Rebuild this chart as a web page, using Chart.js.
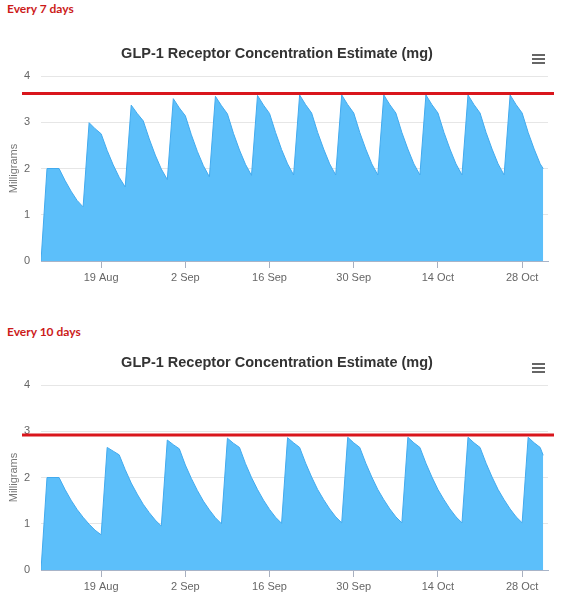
<!DOCTYPE html>
<html>
<head>
<meta charset="utf-8">
<script src="https://cdn.jsdelivr.net/npm/chart.js@4.4.1/dist/chart.umd.min.js"></script>
<style>
    html, body { margin: 0; padding: 0; background: #fff; }
    body { width: 567px; height: 600px; position: relative; overflow: hidden; }
    .note {
        position: absolute; left: 7px;
        font: bold 12px Lato, "Noto Sans", sans-serif;
        color: #cc1a1a;
    }
    .box { position: absolute; left: 0; width: 567px; height: 291px; }
</style>
</head>
<body>
<div class="note" style="top:1px">Every 7 days</div>
<div class="box" style="top:0"><canvas id="chart7"></canvas></div>
<div class="note" style="top:324px">Every 10 days</div>
<div class="box" style="top:309px"><canvas id="chart10"></canvas></div>

<script>
// Chart data
const chartTitle = 'GLP-1 Receptor Concentration Estimate (mg)';
const axisTitle = 'Milligrams';

// days since 9 Aug
const days = [
    0, 1, 2, 3, 4, 5, 6, 7, 8, 9, 10, 11, 12, 13, 14, 15, 16, 17, 18, 19,
    20, 21, 22, 23, 24, 25, 26, 27, 28, 29, 30, 31, 32, 33, 34, 35, 36, 37, 38, 39,
    40, 41, 42, 43, 44, 45, 46, 47, 48, 49, 50, 51, 52, 53, 54, 55, 56, 57, 58, 59,
    60, 61, 62, 63, 64, 65, 66, 67, 68, 69, 70, 71, 72, 73, 74, 75, 76, 77, 78, 79,
    80, 81, 82, 83, 83.5
];

// dose every 7 days
const conc7 = [
    0, 2, 2, 2, 1.74, 1.51, 1.31,
    1.17, 2.99, 2.86, 2.75, 2.39, 2.08, 1.81,
    1.60, 3.37, 3.19, 3.03, 2.64, 2.29, 1.99,
    1.76, 3.51, 3.31, 3.14, 2.73, 2.37, 2.06,
    1.82, 3.56, 3.36, 3.18, 2.76, 2.40, 2.09,
    1.85, 3.58, 3.37, 3.19, 2.78, 2.41, 2.10,
    1.86, 3.59, 3.38, 3.20, 2.78, 2.42, 2.10,
    1.86, 3.59, 3.38, 3.20, 2.78, 2.42, 2.10,
    1.86, 3.59, 3.38, 3.20, 2.78, 2.42, 2.10,
    1.86, 3.59, 3.38, 3.20, 2.78, 2.42, 2.10,
    1.86, 3.59, 3.38, 3.20, 2.78, 2.42, 2.10,
    1.86, 3.59, 3.38, 3.20, 2.78, 2.42, 2.10,
    2.00
];

// dose every 10 days
const conc10 = [
    0, 2, 2, 2, 1.74, 1.51, 1.31, 1.14, 0.99, 0.86,
    0.76, 2.65, 2.57, 2.49, 2.17, 1.88, 1.64, 1.42, 1.24, 1.08,
    0.95, 2.81, 2.71, 2.62, 2.27, 1.98, 1.72, 1.49, 1.30, 1.13,
    1.00, 2.85, 2.74, 2.65, 2.30, 2.00, 1.74, 1.51, 1.31, 1.14,
    1.01, 2.86, 2.75, 2.65, 2.31, 2.01, 1.74, 1.52, 1.32, 1.15,
    1.02, 2.87, 2.75, 2.65, 2.31, 2.01, 1.74, 1.52, 1.32, 1.15,
    1.02, 2.87, 2.75, 2.65, 2.31, 2.01, 1.74, 1.52, 1.32, 1.15,
    1.02, 2.87, 2.75, 2.65, 2.31, 2.01, 1.74, 1.52, 1.32, 1.15,
    1.02, 2.87, 2.75, 2.65,
    2.48
];

// x-axis labels
const tickDays = [10, 24, 38, 52, 66, 80];
const tickLabels = ['19 Aug', '2 Sep', '16 Sep', '30 Sep', '14 Oct', '28 Oct'];

// red reference line per chart
const limit7 = 3.62;
const limit10 = 2.92;

/* ======================
   DECORATION PLUGIN
   ====================== */

const decorPlugin = {
    id: 'decor',
    afterDraw(chart, args, opts) {
        const ctx = chart.ctx;
        const y = chart.scales.y.getPixelForValue(opts.limit);
        ctx.save();

        // red limit line
        ctx.strokeStyle = '#d9161c';
        ctx.lineWidth = 3;
        ctx.beginPath();
        ctx.moveTo(22, y);
        ctx.lineTo(554, y);
        ctx.stroke();

        // title
        ctx.fillStyle = '#333333';
        ctx.font = 'bold 14.5px "Liberation Sans", Arial, sans-serif';
        ctx.textAlign = 'center';
        ctx.textBaseline = 'middle';
        ctx.fillText(chartTitle, 277, 54);

        // menu icon
        ctx.fillStyle = '#666666';
        [54, 58, 62].forEach(top => ctx.fillRect(532, top, 13, 2));

        ctx.restore();
    }
};

/* ======================
   CHART SETUP
   ====================== */

const makeChart = (id, values, limit) => {
    const ctx = document.getElementById(id).getContext('2d');
    return new Chart(ctx, {
        type: 'line',
        data: {
            labels: days,
            datasets: [{
                data: values,
                borderColor: '#42aaee',
                borderWidth: 1,
                backgroundColor: '#5cbffa',
                fill: 'origin',
                pointRadius: 0,
                tension: 0
            }]
        },
        options: {
            responsive: true,
            maintainAspectRatio: false,
            animation: false,
            layout: { padding: { top: 76, right: 19, bottom: 0, left: 0 } },
            plugins: {
                legend: { display: false },
                title: { display: false },
                tooltip: { enabled: false },
                decor: { limit: limit }
            },
            scales: {
                x: {
                    type: 'linear',
                    min: 0,
                    max: 84.3,
                    afterFit: (scale) => { scale.height = 30; },
                    afterBuildTicks: (scale) => {
                        scale.ticks = tickDays.map(v => ({ value: v }));
                    },
                    grid: {
                        drawOnChartArea: false,
                        drawTicks: true,
                        tickLength: 7,
                        color: '#a8b0c0'
                    },
                    border: { display: true, color: '#a8b4c8', width: 1 },
                    ticks: {
                        autoSkip: false,
                        maxRotation: 0,
                        padding: 3,
                        color: '#666666',
                        font: { family: '"Liberation Sans", Arial, sans-serif', size: 11 },
                        callback: (value) => tickLabels[tickDays.indexOf(value)]
                    }
                },
                y: {
                    min: 0,
                    max: 4,
                    afterFit: (scale) => { scale.width = 41; },
                    grid: { color: '#e6e6e6', drawTicks: false },
                    border: { display: false },
                    ticks: {
                        stepSize: 1,
                        padding: 11,
                        color: '#666666',
                        font: { family: '"Liberation Sans", Arial, sans-serif', size: 11 }
                    },
                    title: {
                        display: true,
                        text: axisTitle,
                        color: '#777777',
                        padding: { top: 7, bottom: 0 },
                        font: { family: '"Liberation Sans", Arial, sans-serif', size: 11 }
                    }
                }
            }
        },
        plugins: [decorPlugin]
    });
};

document.addEventListener('DOMContentLoaded', () => {
    makeChart('chart7', conc7, limit7);
    makeChart('chart10', conc10, limit10);
});
</script>
</body>
</html>
